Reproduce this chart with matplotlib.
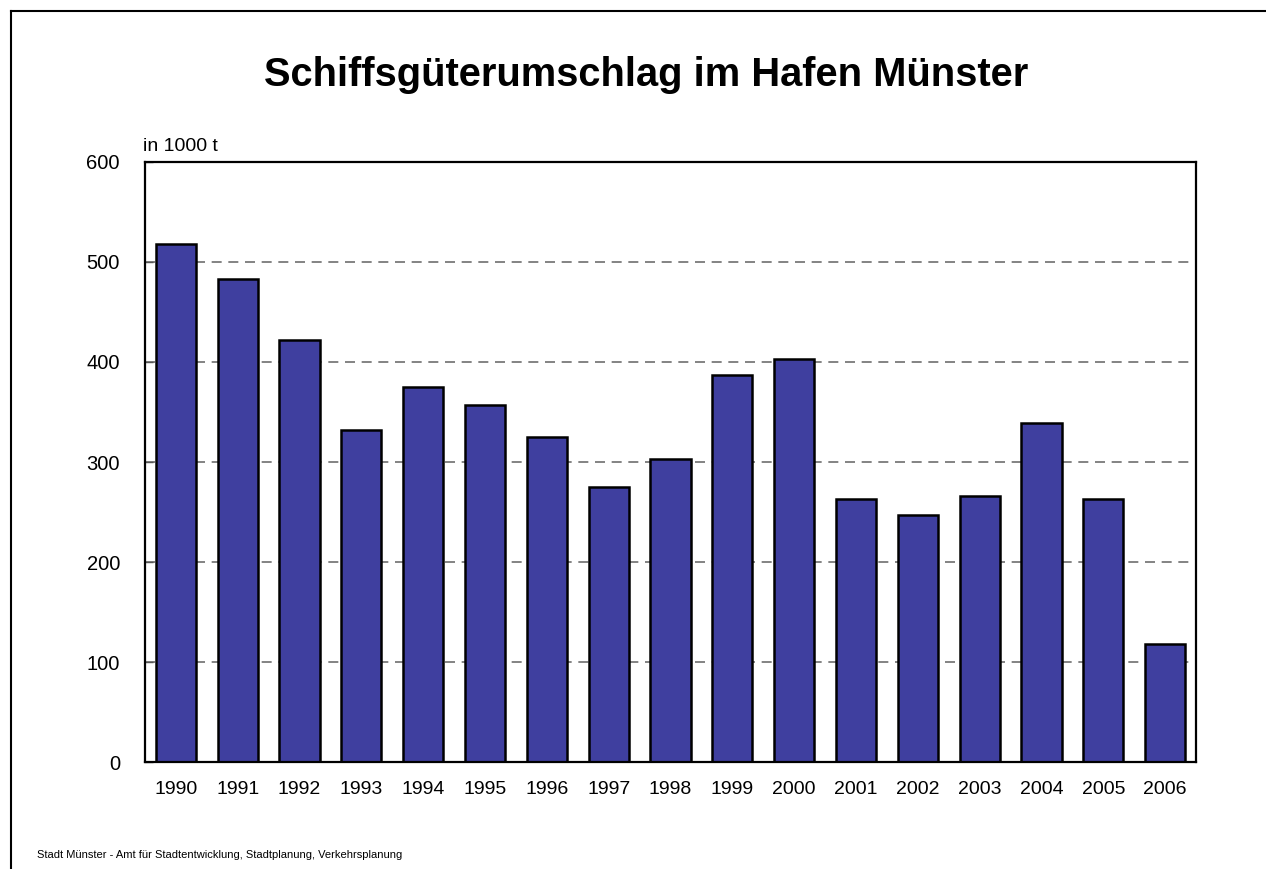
# Schiffsgüterumschlag im Hafen Münster - bar chart

import matplotlib
matplotlib.use('Agg')
from matplotlib import pyplot as plt
from matplotlib.lines import Line2D

years = ['1990', '1991', '1992', '1993', '1994', '1995', '1996', '1997', '1998',
         '1999', '2000', '2001', '2002', '2003', '2004', '2005', '2006']
tonnage = [518, 483, 422, 332, 375, 357, 325, 275, 303,
           387, 403, 263, 247, 266, 339, 263, 118]
y_ticks = [0, 100, 200, 300, 400, 500, 600]

plt.rcParams['font.family'] = ['Liberation Sans', 'DejaVu Sans']

fig = plt.figure(figsize=(12.66, 8.69), dpi=100)
ax = fig.add_axes([0.1145, 0.1231, 0.8302, 0.6905])

x = range(len(years))
ax.bar(x, tonnage, width=0.65, color='#3f3f9f', edgecolor='black', linewidth=1.8, zorder=3)

ax.set_xlim(-0.5, len(years) - 0.5)
ax.set_ylim(0, 600)
ax.set_yticks(y_ticks)
ax.set_xticks(list(x))
ax.set_xticklabels(years)

# Dashed gridlines behind the bars
for v in y_ticks[1:-1]:
    ax.axhline(v, color='#6e6e6e', linestyle=(0, (6, 4)), linewidth=1.2, zorder=1)

ax.tick_params(axis='y', direction='in', length=6, width=1, color='#555555',
               labelsize=14.5, pad=18)
ax.tick_params(axis='x', length=0, labelsize=14, pad=14)
for s in ax.spines.values():
    s.set_linewidth(1.6)
    s.set_color('black')
    s.set_zorder(4)

ax.text(-0.002, 1.012, 'in 1000 t', transform=ax.transAxes, fontsize=14,
        ha='left', va='bottom')

fig.text(0.51, 0.914, 'Schiffsgüterumschlag im Hafen Münster', fontsize=28.7,
         fontweight='bold', ha='center', va='center')
fig.text(37 / 1266, 1 - 855 / 869, 'Stadt Münster - Amt für Stadtentwicklung, Stadtplanung, Verkehrsplanung',
         fontsize=8.05, ha='left', va='center')

# Outer frame (only top and left edges visible)
fig.add_artist(Line2D([10.5 / 1266, 1.0], [1 - 11 / 869, 1 - 11 / 869],
                      transform=fig.transFigure, color='black', linewidth=1.5))
fig.add_artist(Line2D([10.5 / 1266, 10.5 / 1266], [0.0, 1 - 11 / 869],
                      transform=fig.transFigure, color='black', linewidth=1.5))

fig.savefig('out.png', dpi=100)
